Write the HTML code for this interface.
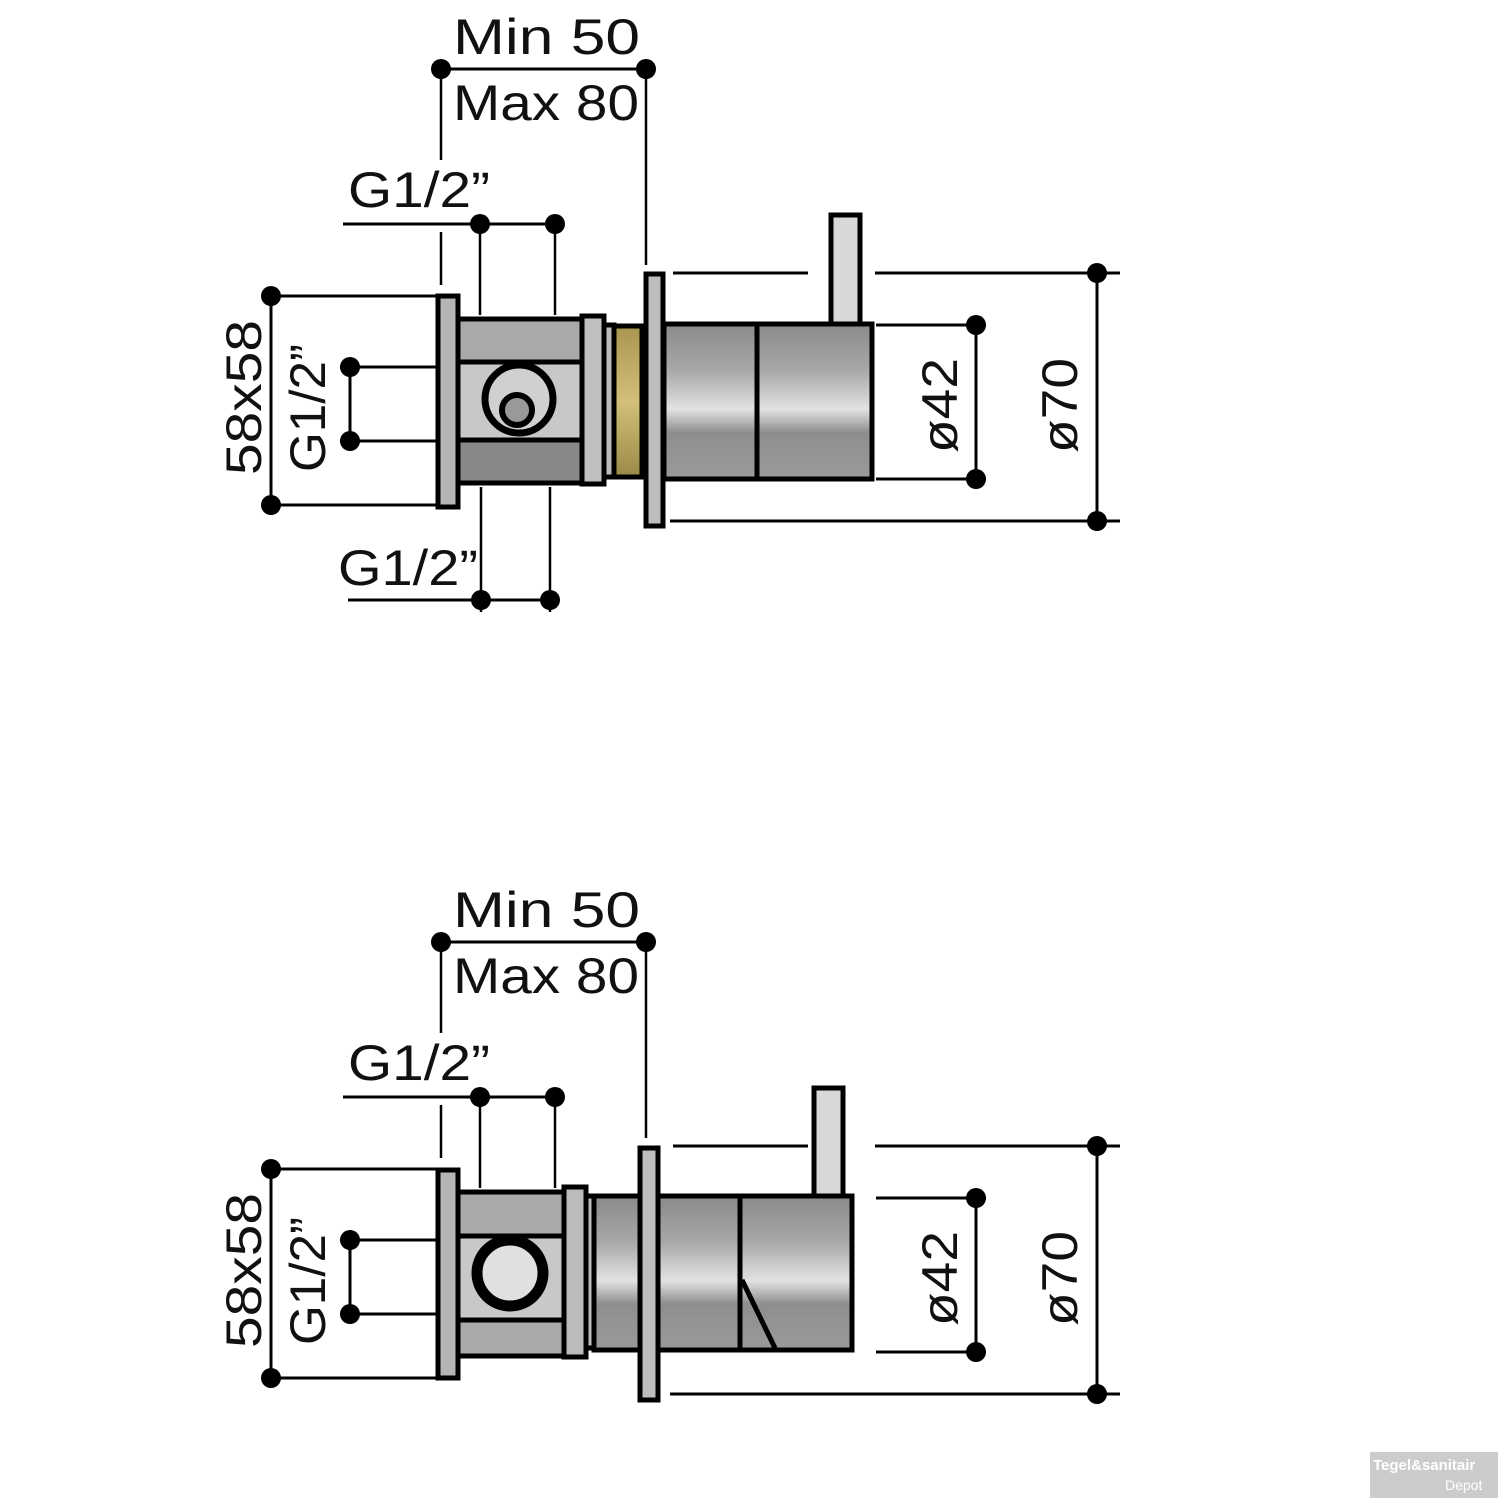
<!DOCTYPE html>
<html><head><meta charset="utf-8"><style>
html,body{margin:0;padding:0;background:#fff}
svg{display:block}
text{font-family:"Liberation Sans",Arial,sans-serif;fill:#111}
</style></head><body>
<svg width="1500" height="1500" viewBox="0 0 1500 1500" xmlns="http://www.w3.org/2000/svg">
<defs>
<linearGradient id="cyl" x1="0" y1="0" x2="0" y2="1">
<stop offset="0" stop-color="#8a8a8a"/><stop offset="0.3" stop-color="#a8a8a8"/><stop offset="0.55" stop-color="#e2e2e2"/><stop offset="0.7" stop-color="#8e8e8e"/><stop offset="1" stop-color="#9a9a9a"/>
</linearGradient>
<linearGradient id="brass" x1="0" y1="0" x2="0" y2="1">
<stop offset="0" stop-color="#a89550"/><stop offset="0.5" stop-color="#d2c07a"/><stop offset="1" stop-color="#9a8a45"/>
</linearGradient>
<g id="dims">
<text x="453" y="54" font-size="50" textLength="187" lengthAdjust="spacingAndGlyphs">Min  50</text>
<text x="453" y="120" font-size="50" textLength="186" lengthAdjust="spacingAndGlyphs">Max 80</text>
<line x1="441" y1="69" x2="646" y2="69" stroke="#000" stroke-width="3"/>
<line x1="441" y1="69" x2="441" y2="160" stroke="#000" stroke-width="2.5"/>
<line x1="441" y1="232" x2="441" y2="285" stroke="#000" stroke-width="2.5"/>
<line x1="646" y1="69" x2="646" y2="265" stroke="#000" stroke-width="2.5"/>
<circle cx="441" cy="69" r="10"/><circle cx="646" cy="69" r="10"/>
<text x="348" y="207" font-size="50" textLength="142" lengthAdjust="spacingAndGlyphs">G1/2”</text>
<line x1="343" y1="224" x2="555" y2="224" stroke="#000" stroke-width="3"/>
<line x1="480" y1="224" x2="480" y2="315" stroke="#000" stroke-width="2.5"/>
<line x1="555" y1="224" x2="555" y2="315" stroke="#000" stroke-width="2.5"/>
<circle cx="480" cy="224" r="10"/><circle cx="555" cy="224" r="10"/>
<line x1="271" y1="296" x2="271" y2="505" stroke="#000" stroke-width="3"/>
<line x1="262" y1="296" x2="436" y2="296" stroke="#000" stroke-width="3"/>
<line x1="262" y1="505" x2="436" y2="505" stroke="#000" stroke-width="3"/>
<circle cx="271" cy="296" r="10"/><circle cx="271" cy="505" r="10"/>
<text transform="translate(261,475) rotate(-90)" font-size="50" textLength="155" lengthAdjust="spacingAndGlyphs">58x58</text>
<text transform="translate(325,472) rotate(-90)" font-size="50" textLength="128" lengthAdjust="spacingAndGlyphs">G1/2”</text>
<line x1="350" y1="367" x2="350" y2="441" stroke="#000" stroke-width="3"/>
<line x1="340" y1="367" x2="460" y2="367" stroke="#000" stroke-width="3"/>
<line x1="340" y1="441" x2="460" y2="441" stroke="#000" stroke-width="3"/>
<circle cx="350" cy="367" r="10"/><circle cx="350" cy="441" r="10"/>
<line x1="876" y1="325" x2="986" y2="325" stroke="#000" stroke-width="3"/>
<line x1="876" y1="479" x2="986" y2="479" stroke="#000" stroke-width="3"/>
<line x1="976" y1="325" x2="976" y2="479" stroke="#000" stroke-width="3"/>
<circle cx="976" cy="325" r="10"/><circle cx="976" cy="479" r="10"/>
<text transform="translate(957,453) rotate(-90)" font-size="50" textLength="95" lengthAdjust="spacingAndGlyphs">ø42</text>
<line x1="673" y1="273" x2="808" y2="273" stroke="#000" stroke-width="3"/>
<line x1="875" y1="273" x2="1120" y2="273" stroke="#000" stroke-width="3"/>
<line x1="670" y1="521" x2="1120" y2="521" stroke="#000" stroke-width="3"/>
<line x1="1097" y1="273" x2="1097" y2="521" stroke="#000" stroke-width="3"/>
<circle cx="1097" cy="273" r="10"/><circle cx="1097" cy="521" r="10"/>
<text transform="translate(1077,453) rotate(-90)" font-size="50" textLength="95" lengthAdjust="spacingAndGlyphs">ø70</text>
</g>
</defs>

<use href="#dims"/>
<text x="338" y="585" font-size="50" textLength="140" lengthAdjust="spacingAndGlyphs">G1/2”</text>
<line x1="348" y1="600" x2="550" y2="600" stroke="#000" stroke-width="3"/>
<line x1="481" y1="487" x2="481" y2="612" stroke="#000" stroke-width="2.5"/>
<line x1="550" y1="487" x2="550" y2="612" stroke="#000" stroke-width="2.5"/>
<circle cx="481" cy="600" r="10"/><circle cx="550" cy="600" r="10"/>
<g stroke="#000" stroke-width="5">
<rect x="831" y="215" width="29" height="112" fill="#d8d8d8"/>
<rect x="458" y="319" width="124" height="164" fill="#a9a9a9"/>
<rect x="458" y="362" width="124" height="78" fill="#c8c8c8"/>
<rect x="458" y="440" width="124" height="43" fill="#888"/>
<rect x="438" y="296" width="20" height="211" fill="#b5b5b5"/>
<rect x="582" y="316" width="22" height="168" fill="#c0c0c0"/>
<rect x="604" y="325" width="10" height="152" fill="#bbb"/>
<rect x="614" y="326" width="28" height="151" fill="url(#brass)"/>
<rect x="664" y="324" width="208" height="155" fill="url(#cyl)"/>
<line x1="757" y1="324" x2="757" y2="479"/>
<rect x="646" y="274" width="17" height="252" fill="#bdbdbd"/>
<circle cx="519" cy="399" r="34" fill="#d0d0d0" stroke-width="7"/>
<circle cx="517" cy="410" r="15" fill="#999" stroke-width="6"/>
</g>

<use href="#dims" transform="translate(0,873)"/>
<g stroke="#000" stroke-width="5">
<rect x="814" y="1088" width="29" height="110" fill="#d8d8d8"/>
<rect x="458" y="1192" width="106" height="164" fill="#a9a9a9"/>
<rect x="458" y="1236" width="106" height="84" fill="#c8c8c8"/>
<rect x="438" y="1170" width="20" height="208" fill="#b5b5b5"/>
<rect x="564" y="1187" width="22" height="170" fill="#bbb"/>
<rect x="586" y="1196" width="8" height="152" fill="#bbb"/>
<rect x="594" y="1196" width="258" height="154" fill="url(#cyl)"/>
<line x1="740" y1="1196" x2="740" y2="1350"/>
<polyline points="742,1280 775,1348" fill="none"/>
<rect x="640" y="1148" width="18" height="252" fill="#bdbdbd"/>
<circle cx="510" cy="1273" r="33" fill="#e0e0e0" stroke-width="11"/>
</g>

<rect x="1370" y="1452" width="128" height="46" fill="#9a9a9a" opacity="0.5"/>
<text x="1373" y="1470" font-size="15" font-weight="bold" style="fill:#fff">Tegel&amp;sanitair</text>
<text x="1445" y="1490" font-size="14" style="fill:#fff">Depot</text>
</svg>
</body></html>
